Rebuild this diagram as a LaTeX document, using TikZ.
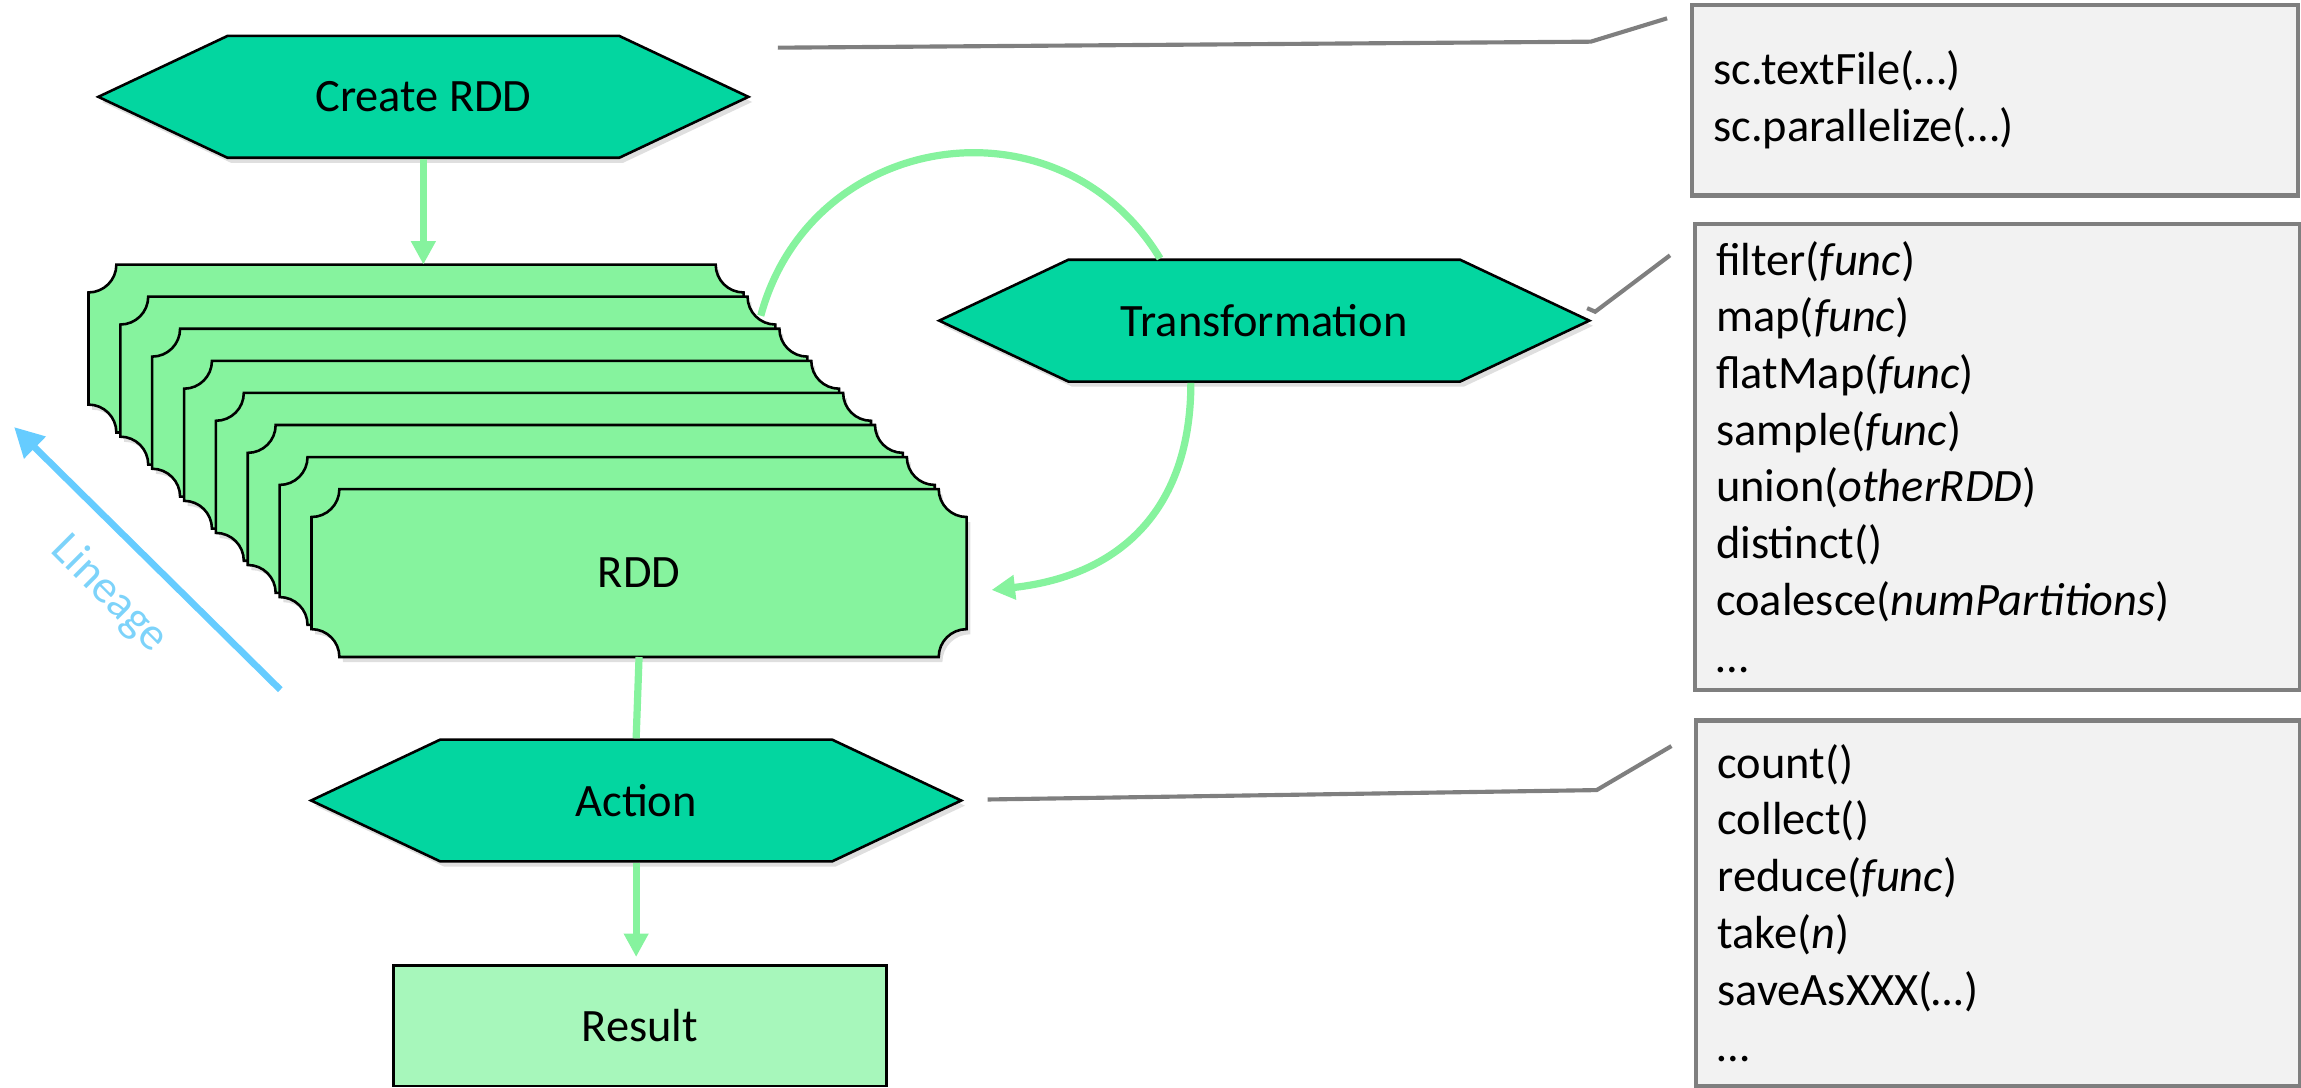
\documentclass[tikz,border=0pt]{standalone}
\usepackage{fontspec}
\setmainfont{Carlito}
\usetikzlibrary{shapes.symbols,arrows.meta,shadows}

\definecolor{hexgreen}{HTML}{03D6A0}
\definecolor{cardgreen}{HTML}{86F39E}
\definecolor{resgreen}{HTML}{A7F7BB}
\definecolor{flowgreen}{HTML}{86F39E}
\definecolor{lineageblue}{HTML}{66CCFF}
\definecolor{lineagetext}{HTML}{7DD3FA}
\definecolor{callgray}{HTML}{7F7F7F}
\definecolor{boxgray}{HTML}{F2F2F2}

\tikzset{
  softshadow/.style={drop shadow={shadow xshift=0.25mm,shadow yshift=-0.35mm,opacity=0.25}},
  hexbox/.style={signal,signal to=east and west,signal pointer angle=50.5,
    draw=black,line width=0.5pt,fill=hexgreen,inner sep=0pt,
    minimum width=4.43cm,minimum height=0.83cm,softshadow},
  cardbox/.style={rectangle,inner sep=0pt,minimum width=4.45cm,minimum height=1.13cm},
  cardline/.style={draw=black,line width=0.5pt,fill=cardgreen,softshadow},
  resultbox/.style={rectangle,draw=black,line width=0.5pt,fill=resgreen,
    minimum width=3.36cm,minimum height=0.82cm},
  listbox/.style={rectangle,draw=callgray,line width=0.8pt,fill=boxgray,
    align=left,inner xsep=1.45mm,inner ysep=0pt},
  flowline/.style={draw=flowgreen,line width=1.4pt},
  flow/.style={flowline,-{Triangle[width=1.6mm,length=1.6mm]}},
  callout/.style={draw=callgray,line width=0.8pt},
  lineagearrow/.style={draw=lineageblue,line width=1.3pt,-{Triangle[width=2mm,length=2mm]}}
}

\begin{document}
\begin{tikzpicture}[y=-1cm,font=\fontsize{9}{11}\selectfont]
  \useasboundingbox (0,0) rectangle (15.68,7.414);

  % stack of partitions
  \foreach \i in {0,...,7}{
    \node[cardbox] (card\i) at ({2.835+0.2171*\i},{2.375+0.2186*\i}) {};
    \draw[cardline] ([xshift=1.9mm]card\i.north west) -- ([xshift=-1.9mm]card\i.north east)
      .. controls +(0,-1.05mm) and +(-1.05mm,0) .. ([yshift=-1.9mm]card\i.north east)
      -- ([yshift=1.9mm]card\i.south east)
      .. controls +(-1.05mm,0) and +(0,1.05mm) .. ([xshift=-1.9mm]card\i.south east)
      -- ([xshift=1.9mm]card\i.south west)
      .. controls +(0,1.05mm) and +(1.05mm,0) .. ([yshift=1.9mm]card\i.south west)
      -- ([yshift=-1.9mm]card\i.north west)
      .. controls +(1.05mm,0) and +(0,-1.05mm) .. ([xshift=1.9mm]card\i.north west) -- cycle;
  }
  \node (rddtext) at (card7.center) {RDD};

  \node[hexbox] (create) at (2.885,0.66) {Create RDD};
  \node[hexbox] (trans) at (8.615,2.185) {Transformation};
  \node[hexbox] (action) at (4.335,5.455) {Action};
  \node[resultbox] (result) at (4.36,6.99) {Result};

  \draw[flow] (create.south) -- (create.south |- card0.north);
  \draw[flowline] ([xshift=-1mm,yshift=-1.3mm]card1.north east)
    .. controls +(0.344,-1.273) and +(-0.683,-1.128) .. ([xshift=-7.1mm]trans.north);
  \coordinate (loopend) at ([xshift=1.7mm,yshift=-1.15mm]card7.east);
  \draw[flow] ([xshift=-5mm]trans.south)
    .. controls +(0,0.84) and +(0.90,-0.10) .. (loopend);
  \draw[flowline] (card7.south) -- (action.north);
  \draw[flow] (action.south) -- ([yshift=0.5mm]action.south |- result.north);

  % lineage
  \coordinate (lintail) at (1.91,4.70);
  \coordinate (linhead) at (0.096,2.91);
  \draw[lineagearrow] (lintail) -- (linhead);
  \node[text=lineagetext,rotate=-45] (lineage) at (0.745,4.05) {Lineage};

  % operation lists
  \node[listbox,minimum height=1.30cm,text width=3.84cm] (createops) at (13.595,0.682)
    {sc.textFile(…)\\sc.parallelize(…)};
  \node[listbox,minimum height=3.175cm,text width=3.83cm] (transops) at (13.61,3.113)
    {filter(\textit{func})\\map(\textit{func})\\flatMap(\textit{func})\\sample(\textit{func})\\
     union(\textit{otherRDD})\\distinct()\\coalesce(\textit{numPartitions})\\…};
  \node[listbox,minimum height=2.49cm,text width=3.82cm] (actionops) at (13.615,6.155)
    {count()\\collect()\\reduce(\textit{func})\\take(\textit{n})\\saveAsXXX(\textit{…})\\…};

  \coordinate (c1a) at (5.30,0.325);
  \coordinate (c1b) at (10.84,0.284);
  \coordinate (c1c) at (11.36,0.125);
  \draw[callout] (c1a) -- (c1b) -- (c1c);
  \coordinate (c2a) at (10.815,2.10);
  \coordinate (c2b) at (10.87,2.124);
  \coordinate (c2c) at (11.38,1.74);
  \draw[callout] (c2a) -- (c2b) -- (c2c);
  \coordinate (c3a) at (6.73,5.448);
  \coordinate (c3b) at (10.88,5.384);
  \coordinate (c3c) at (11.39,5.084);
  \draw[callout] (c3a) -- (c3b) -- (c3c);
\end{tikzpicture}
\end{document}
